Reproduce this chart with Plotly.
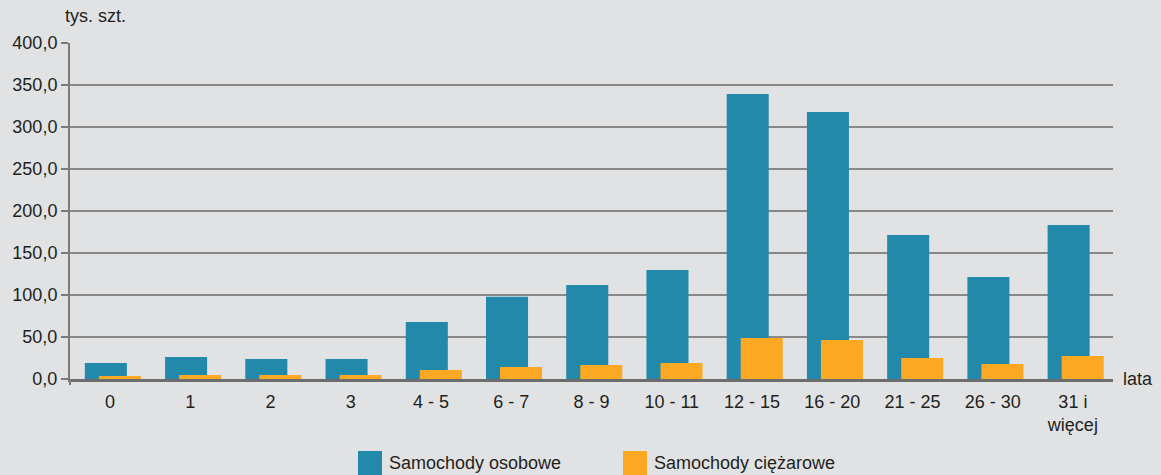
import plotly.graph_objects as go

categories = ["0", "1", "2", "3", "4 - 5", "6 - 7", "8 - 9", "10 - 11", "12 - 15",
              "16 - 20", "21 - 25", "26 - 30", "31 i<br>więcej"]
osobowe = [19.0, 26.2, 23.8, 23.8, 67.9, 98.0, 111.9, 129.8, 339.3, 317.9, 171.4, 121.4, 183.3]
ciezarowe = [3.6, 4.8, 4.8, 4.8, 10.7, 14.3, 16.7, 19.0, 48.8, 46.4, 25.0, 17.9, 27.4]
y_ticks = [0, 50, 100, 150, 200, 250, 300, 350, 400]
y_ticktext = ["0,0", "50,0", "100,0", "150,0", "200,0", "250,0", "300,0", "350,0", "400,0"]

BLUE = "#2389aa"
ORANGE = "#fba922"
BG = "#e1e2e4"
FONT = "Liberation Sans, Arial, sans-serif"
FS = 18

fig = go.Figure()
fig.add_trace(go.Bar(x=categories, y=osobowe, name="Samochody osobowe",
                     marker=dict(color=BLUE, line=dict(width=0)),
                     width=0.524, offset=-0.315, showlegend=False))
fig.add_trace(go.Bar(x=categories, y=ciezarowe, name="Samochody ciężarowe",
                     marker=dict(color=ORANGE, line=dict(width=0)),
                     width=0.524, offset=-0.14, showlegend=False))

fig.update_layout(
    width=1161, height=475,
    paper_bgcolor=BG, plot_bgcolor=BG,
    barmode="overlay",
    margin=dict(l=70, r=48, t=43, b=96),
    font=dict(family=FONT, size=FS, color="#231f20"),
    xaxis=dict(type="category", showline=True, linecolor="#6d6d6d", linewidth=3,
               ticks="", showgrid=False, tickfont=dict(size=FS), ticklabelstandoff=4),
    yaxis=dict(range=[0, 400], tickvals=y_ticks, ticktext=y_ticktext,
               showgrid=True, gridcolor="#888888", gridwidth=2,
               showline=True, linecolor="#7a7a7a", linewidth=2,
               ticks="outside", ticklen=7, tickcolor="#7a7a7a", tickwidth=2,
               zeroline=False, tickfont=dict(size=FS)),
)

# axis line extension below zero
fig.add_shape(type="line", xref="paper", yref="paper", x0=0, x1=0, y0=0, y1=-0.018,
              line=dict(color="#7a7a7a", width=2))

ph = 475 - 43 - 96
pw = 1161 - 70 - 48
fig.add_annotation(text="tys. szt.", xref="paper", yref="paper", x=-0.007, y=(379 - 16) / ph,
                   xanchor="left", yanchor="middle", showarrow=False, font=dict(size=FS))
fig.add_annotation(text="lata", xref="paper", yref="y", x=(1121 - 70) / pw, y=0,
                   xanchor="left", yanchor="middle", showarrow=False, font=dict(size=FS))

# legend drawn manually
legend_items = [("Samochody osobowe", BLUE, 358), ("Samochody ciężarowe", ORANGE, 623)]
for label, color, px in legend_items:
    x0 = (px - 70) / pw
    x1 = (px + 24 - 70) / pw
    y_top = (379 - 451) / ph
    y_bot = (379 - 475) / ph
    fig.add_shape(type="rect", xref="paper", yref="paper", x0=x0, x1=x1,
                  y0=y_bot, y1=y_top, line=dict(width=0), fillcolor=color)
    fig.add_annotation(text=label, xref="paper", yref="paper", x=(px + 29 - 70) / pw,
                       y=(379 - 463) / ph, xanchor="left", yanchor="middle",
                       showarrow=False, font=dict(size=FS))

fig.write_html("out.html", config={"displayModeBar": False},
               post_script="document.body.style.margin='0';document.body.style.background='%s';" % BG)
